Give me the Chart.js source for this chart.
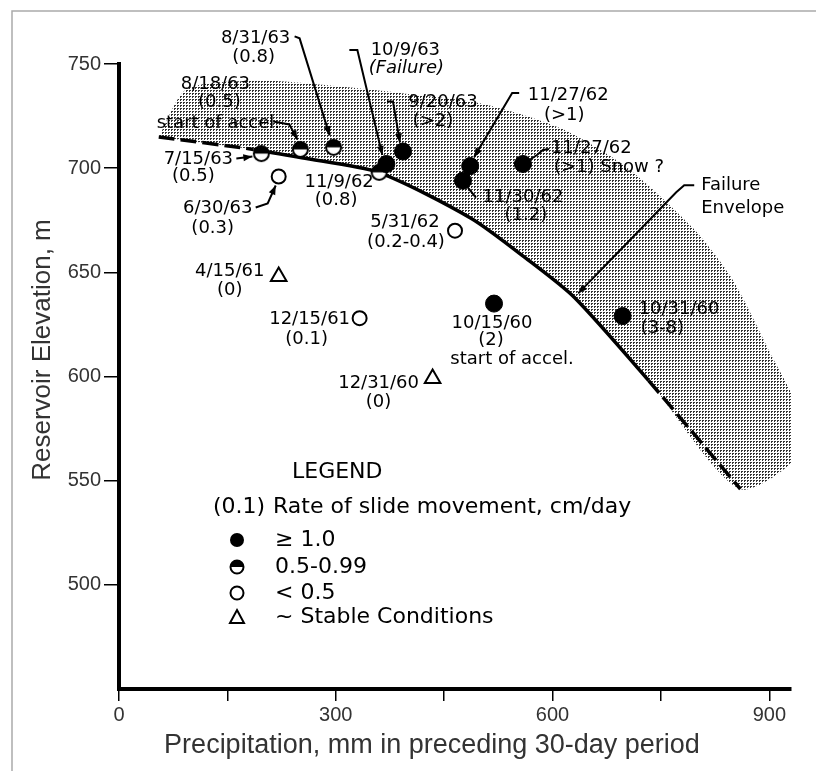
<!DOCTYPE html>
<html>
<head>
<meta charset="utf-8">
<script src="https://cdn.jsdelivr.net/npm/chart.js@4.4.0/dist/chart.umd.min.js"></script>
<style>
  html, body { margin: 0; padding: 0; background: #fff; }
  #wrap { width: 816px; height: 771px; }
</style>
</head>
<body>
<div id="wrap"><canvas id="chart"></canvas></div>
<script>
// x ticks (mm) and y ticks (m)
const xTicks = [0, 150, 300, 450, 600, 750, 900];
const xLabelTicks = [0, 300, 600, 900];
const yTicks = [500, 550, 600, 650, 700, 750];

// rate >= 1.0
const filledDates = ['9/20/63', '10/9/63', '11/27/62', '11/30/62', '11/27/62', '10/15/60', '10/31/60'];
const filledX = [393, 370, 486, 476, 559, 519, 697];
const filledY = [708, 702, 701, 694, 702, 635, 629];
// rate 0.5 - 0.99
const halfDates = ['7/15/63', '8/18/63', '8/31/63', '11/9/62'];
const halfX = [197, 251, 297, 360];
const halfY = [707, 709, 710, 698];
// rate < 0.5
const openDates = ['6/30/63', '5/31/62', '12/15/61'];
const openX = [221, 465, 333];
const openY = [696, 670, 628];
// ~ stable
const stableDates = ['4/15/61', '12/31/60'];
const stableX = [221, 434];
const stableY = [648, 599];

// failure envelope (lower edge of shaded band)
const envelopeX = [55, 186, 253, 359, 487, 566, 630, 733, 860];
const envelopeY = [715, 709, 705, 698, 676, 656, 638, 598, 546];
// upper edge of shaded band
const bandX = [55, 94, 193, 280, 391, 501, 612, 704, 795, 850, 906, 933, 954];
const bandY = [715, 738, 742, 740, 736, 731, 719, 700, 671, 646, 608, 590, 567];

const pts = (xs, ys) => xs.map((x, i) => ({x: x, y: ys[i]}));

const bandPts = pts(bandX, bandY).concat(pts(envelopeX, envelopeY).reverse());

function stipple() {
  const c = document.createElement('canvas');
  c.width = 3; c.height = 3;
  const g = c.getContext('2d');
  g.fillStyle = '#fff'; g.fillRect(0, 0, 3, 3);
  g.fillStyle = '#333';
  g.fillRect(0, 0, 2, 1); g.fillRect(0, 1, 1, 1);
  return g.createPattern(c, 'repeat');
}

function drawHalf(g, x, y, r) {
  g.beginPath(); g.arc(x, y, r, 0, 2 * Math.PI);
  g.fillStyle = '#fff'; g.fill();
  g.beginPath(); g.arc(x, y, r, Math.PI, 2 * Math.PI); g.closePath();
  g.fillStyle = '#000'; g.fill();
  g.beginPath(); g.arc(x, y, r, 0, 2 * Math.PI);
  g.lineWidth = 2; g.strokeStyle = '#000'; g.stroke();
}

function halfDot(r) {
  const c = document.createElement('canvas');
  const s = 2 * r + 4;
  c.width = s; c.height = s;
  drawHalf(c.getContext('2d'), s / 2, s / 2, r);
  return c;
}

// label layout: offsets in px from the marker
const notes = [
  {ds: 1, i: 2, lines: [['8/31/63', -78, -109], ['(0.8)', -80, -90]], lead: [[-39, -111], [-34, -109], [-4, -12]], arrow: true},
  {ds: 0, i: 1, lines: [['10/9/63', 19, -114], ['(Failure)', 20, -96, 'i']], lead: [[-37, -114], [-29, -114], [-4, -9]], arrow: true},
  {ds: 0, i: 0, lines: [['9/20/63', 40, -49], ['(>2)', 30, -30]], lead: [[-16, -50], [-10, -50], [-3, -9]], arrow: true},
  {ds: 0, i: 2, lines: [['11/27/62', 98, -71], ['(>1)', 94, -51]], lead: [[49, -73], [42, -73], [4, -9]], arrow: true},
  {ds: 0, i: 4, lines: [['11/27/62', 28, -16, 'l'], ['(>1) Snow ?', 31, 3, 'l']], lead: [[5, -3], [14, -9], [20, -14], [26, -15]]},
  {ds: 0, i: 3, lines: [['11/30/62', 60, 17], ['(1.2)', 63, 35]], lead: [[5, 7], [13, 17]]},
  {ds: 1, i: 3, lines: [['11/9/62', -40, 10], ['(0.8)', -43, 28]]},
  {ds: 1, i: 1, lines: [['8/18/63', -85, -65], ['(0.5)', -81, -47], ['start of accel.', -82, -26]], lead: [[-27, -28], [-11, -25], [-3, -10]], arrow: true},
  {ds: 1, i: 0, lines: [['7/15/63', -63, 6], ['(0.5)', -68, 23]], lead: [[-25, 5], [-9, 3]], arrow: true},
  {ds: 2, i: 0, lines: [['6/30/63', -61, 32], ['(0.3)', -66, 52]], lead: [[-23, 31], [-11, 27], [-3, 9]], arrow: true},
  {ds: 2, i: 1, lines: [['5/31/62', -50, -8], ['(0.2-0.4)', -49, 12]]},
  {ds: 3, i: 0, lines: [['4/15/61', -49, -5], ['(0)', -49, 14]]},
  {ds: 2, i: 2, lines: [['12/15/61', -50, 1], ['(0.1)', -53, 21]]},
  {ds: 3, i: 1, lines: [['12/31/60', -54, 5], ['(0)', -54, 24]]},
  {ds: 0, i: 5, lines: [['10/15/60', -2, 20], ['(2)', -3, 37], ['start of accel.', 18, 56]]},
  {ds: 0, i: 6, lines: [['10/31/60', 16, -7, 'l'], ['(3-8)', 18, 12, 'l']]},
  {ds: 4, i: 6, lines: [['Failure', 127, -112, 'l'], ['Envelope', 127, -89, 'l']], lead: [[120, -112], [110, -112], [102, -105], [4, -4]], arrow: true}
];

const LETTER = '18px "DejaVu Sans"';

const notesPlugin = {
  id: 'notes',
  afterDatasetsDraw(chart) {
    const ctx = chart.ctx;
    ctx.save();
    ctx.fillStyle = '#000';
    ctx.strokeStyle = '#000';
    ctx.lineWidth = 2;
    ctx.textBaseline = 'middle';
    notes.forEach(n => {
      const p = chart.getDatasetMeta(n.ds).data[n.i];
      if (n.lead) {
        ctx.beginPath();
        n.lead.forEach((o, k) => {
          const fn = k ? 'lineTo' : 'moveTo';
          ctx[fn](p.x + o[0], p.y + o[1]);
        });
        ctx.stroke();
        if (n.arrow) {
          const a = n.lead[n.lead.length - 2], b = n.lead[n.lead.length - 1];
          const ang = Math.atan2(b[1] - a[1], b[0] - a[0]);
          const bx = p.x + b[0], by = p.y + b[1];
          ctx.beginPath();
          ctx.moveTo(bx, by);
          ctx.lineTo(bx - 9 * Math.cos(ang) + 3.5 * Math.sin(ang), by - 9 * Math.sin(ang) - 3.5 * Math.cos(ang));
          ctx.lineTo(bx - 9 * Math.cos(ang) - 3.5 * Math.sin(ang), by - 9 * Math.sin(ang) + 3.5 * Math.cos(ang));
          ctx.closePath();
          ctx.fill();
        }
      }
      n.lines.forEach(l => {
        const flag = l[3] || '';
        ctx.font = (flag === 'i' ? 'italic ' : '') + LETTER;
        ctx.textAlign = flag === 'l' ? 'left' : 'center';
        ctx.fillText(l[0], p.x + l[1], p.y + l[2]);
      });
    });
    ctx.restore();
  }
};

const legendPlugin = {
  id: 'legendBox',
  afterDraw(chart) {
    const ctx = chart.ctx;
    ctx.save();
    ctx.fillStyle = '#000';
    ctx.textBaseline = 'middle';
    ctx.textAlign = 'left';
    ctx.font = '22px "DejaVu Sans"';
    ctx.fillText('LEGEND', 292, 472);
    ctx.fillText('(0.1)', 213, 507);
    ctx.fillText('Rate of slide movement, cm/day', 273, 507);
    ctx.fillText('\u2265 1.0', 275, 540);
    ctx.fillText('0.5-0.99', 275, 567);
    ctx.fillText('< 0.5', 275, 593);
    ctx.fillText('~ Stable Conditions', 275, 617);
    // symbols
    ctx.beginPath(); ctx.arc(237, 540, 7, 0, 2 * Math.PI); ctx.fillStyle = '#000'; ctx.fill();
    drawHalf(ctx, 237, 567, 6.5);
    ctx.beginPath(); ctx.arc(237, 593, 6.5, 0, 2 * Math.PI);
    ctx.lineWidth = 2; ctx.strokeStyle = '#000'; ctx.stroke();
    ctx.beginPath(); ctx.moveTo(237, 610); ctx.lineTo(244, 623); ctx.lineTo(230, 623); ctx.closePath();
    ctx.stroke();
    ctx.restore();
  }
};

const framePlugin = {
  id: 'frame',
  beforeDraw(chart) {
    const ctx = chart.ctx;
    ctx.save();
    ctx.fillStyle = '#fff';
    ctx.fillRect(0, 0, chart.width, chart.height);
    ctx.strokeStyle = '#aaa';
    ctx.lineWidth = 1.5;
    ctx.beginPath();
    ctx.moveTo(12, chart.height); ctx.lineTo(12, 11); ctx.lineTo(chart.width, 11);
    ctx.stroke();
    ctx.restore();
  },
  afterDraw(chart) {
    const ctx = chart.ctx;
    ctx.save();
    ctx.fillStyle = '#333';
    ctx.textAlign = 'center';
    ctx.textBaseline = 'middle';
    ctx.font = '27px "Liberation Sans", Arial, sans-serif';
    ctx.fillText('Precipitation, mm in preceding 30-day period', 432, 746);
    ctx.font = '26px "Liberation Sans", Arial, sans-serif';
    ctx.translate(43, 350);
    ctx.rotate(-Math.PI / 2);
    ctx.fillText('Reservoir Elevation, m', 0, 0);
    ctx.restore();
  }
};

const tickFont = {family: '"Liberation Sans", Arial, sans-serif', size: 20};

new Chart(document.getElementById('chart'), {
  type: 'line',
  data: {
    datasets: [
      {
        label: '\u2265 1.0', data: pts(filledX, filledY), showLine: false, order: 0,
        pointStyle: 'circle', pointRadius: 8.5, pointBackgroundColor: '#000', pointBorderColor: '#000', pointBorderWidth: 1
      },
      {
        label: '0.5-0.99', data: pts(halfX, halfY), showLine: false, order: 0,
        pointStyle: halfDot(7.5), pointRadius: 8
      },
      {
        label: '< 0.5', data: pts(openX, openY), showLine: false, order: 0,
        pointStyle: 'circle', pointRadius: 7, pointBackgroundColor: '#fff', pointBorderColor: '#000', pointBorderWidth: 2
      },
      {
        label: '~ Stable Conditions', data: pts(stableX, stableY), showLine: false, order: 0,
        pointStyle: 'triangle', pointRadius: 9, pointBackgroundColor: '#fff', pointBorderColor: '#000', pointBorderWidth: 2
      },
      {
        label: 'Failure Envelope', data: pts(envelopeX, envelopeY), order: 5,
        borderColor: '#000', borderWidth: 3.5, pointRadius: 0, tension: 0.25, fill: false,
        segment: {
          borderDash: c => (c.p0DataIndex === 0 || c.p0DataIndex >= envelopeX.length - 2) ? [16, 6] : undefined
        }
      },
      {
        label: 'band', data: bandPts, order: 10,
        borderColor: 'rgba(0,0,0,0)', borderWidth: 0, pointRadius: 0, tension: 0.25,
        fill: 'shape', backgroundColor: stipple()
      }
    ]
  },
  options: {
    responsive: true,
    maintainAspectRatio: false,
    animation: false,
    devicePixelRatio: 1,
    layout: {padding: {top: 64, right: 25, left: 0, bottom: 0}},
    plugins: {legend: {display: false}, tooltip: {enabled: false}},
    scales: {
      x: {
        type: 'linear', min: 0, max: 930,
        afterBuildTicks: s => { s.ticks = xTicks.map(v => ({value: v})); },
        afterFit: s => { s.height = 82; },
        ticks: {
          callback: v => xLabelTicks.includes(v) ? String(v) : '',
          font: tickFont, color: '#333', padding: 2, maxRotation: 0, autoSkip: false
        },
        grid: {drawOnChartArea: false, drawTicks: true, tickLength: 12, color: '#000', lineWidth: 1.5},
        border: {display: true, color: '#000', width: 4}
      },
      y: {
        type: 'linear', min: 450, max: 750,
        afterBuildTicks: s => { s.ticks = yTicks.map(v => ({value: v})); },
        afterFit: s => { s.width = 119; },
        ticks: {font: tickFont, color: '#333', padding: 3},
        grid: {drawOnChartArea: false, drawTicks: true, tickLength: 15, color: '#000', lineWidth: 1.5},
        border: {display: true, color: '#000', width: 4}
      }
    }
  },
  plugins: [framePlugin, notesPlugin, legendPlugin]
});
</script>
</body>
</html>
